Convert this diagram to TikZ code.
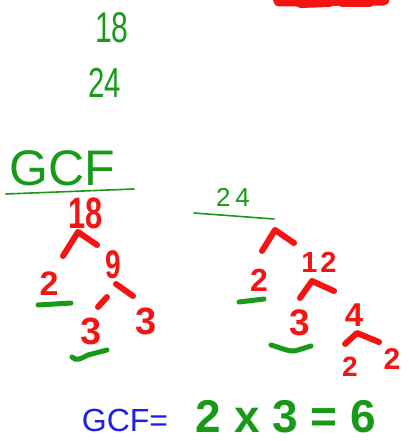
\documentclass[tikz,border=0pt]{standalone}
\usepackage{fontspec}
\setmainfont{Liberation Sans}
\newfontfamily\penfont{Liberation Sans}
\newfontfamily\pennarrow[FakeStretch=0.7]{Liberation Sans}
\usetikzlibrary{positioning}
\definecolor{penGreen}{HTML}{189A18}
\definecolor{penRed}{HTML}{F41414}
\definecolor{penBlue}{HTML}{1E1EE6}
\newcommand{\penat}[1]{\fontsize{#1}{#1}\selectfont}

\begin{document}
\begin{tikzpicture}[x=1pt,y=-1pt,
    gnum/.style={text=penGreen,inner sep=0pt},
    rnum/.style={text=penRed,inner sep=0pt},
    bnum/.style={text=penBlue,inner sep=0pt},
    rstroke/.style={draw=penRed,line width=6pt,line cap=round,line join=round},
    gline/.style={draw=penGreen,line width=1.6pt,line cap=round},
    gmark/.style={draw=penGreen,line width=5pt,line cap=round,line join=round}]

  \useasboundingbox (0,0) rectangle (408,441);

  % the two numbers
  \node[gnum,font=\pennarrow\penat{43}] (g18) at (112,28) {18};
  \node[gnum,font=\pennarrow\penat{42}] (g24) at (105,83) {24};

  % cut-off scribble, top right
  \begin{scope}
    \clip (0,0) rectangle (408,441);
    \draw[rstroke,line width=11pt] (277,-6) -- (279,1) -- (384,0);
    \draw[rstroke,line width=8pt] (296,-2) -- (300,4) -- (330,3);
    \draw[rstroke,line width=8pt] (338,-2) -- (342,3) -- (370,3);
  \end{scope}

  % heading
  \node[gnum,font=\penfont\penat{50}] (gcf) at (62,168) {GCF};
  \draw[gline] (6,194) -- (134,189);

  % tree of 18
  \node[rnum,font=\pennarrow\bfseries\penat{44}] (r18) at (86,213) {18};
  \node[rnum,font=\pennarrow\bfseries\penat{40}] (r9) at (113,265) {9};
  \node[rnum,font=\penfont\bfseries\penat{34}] (r2a) at (49,284) {2};
  \node[rnum,font=\penfont\bfseries\penat{38}] (r3a) at (91,331) {3};
  \node[rnum,font=\penfont\bfseries\penat{38}] (r3b) at (146,321) {3};
  \draw[rstroke] (63,256) -- (78,232) -- (97,245);
  \draw[rstroke] (98,307) -- (107,297);
  \draw[rstroke] (116,284) -- (133,296);
  \draw[gmark] (38,305) -- (71,303);
  \draw[gmark] (72,357) .. controls (76,362) and (82,358) .. (88,355) -- (107,350);

  % tree of 24
  \node[gnum,font=\penfont\penat{26}] (g24b) at (233,197) {2\hspace{5pt}4};
  \draw[gline] (194,213) -- (274,219);
  \node[rnum,font=\penfont\bfseries\penat{29}] (r12) at (319,262) {1\hspace{3pt}2};
  \node[rnum,font=\penfont\bfseries\penat{32}] (r2b) at (259,280) {2};
  \node[rnum,font=\penfont\bfseries\penat{37}] (r3c) at (300,323) {3};
  \node[rnum,font=\penfont\bfseries\penat{33}] (r4) at (354,315) {4};
  \node[rnum,font=\penfont\bfseries\penat{28}] (r2c) at (350,367) {2};
  \node[rnum,font=\penfont\bfseries\penat{30}] (r2d) at (392,359) {2};
  \draw[rstroke] (262,251) -- (275,230) -- (294,243);
  \draw[rstroke] (300,298) -- (312,281) -- (334,291);
  \draw[rstroke] (345,344) -- (357,333) -- (379,342);
  \draw[gmark] (239,302) -- (264,299);
  \draw[gmark] (271,345) .. controls (282,348) and (290,353) .. (298,350) -- (311,346);

  % result
  \node[bnum,font=\penfont\penat{32}] (gcfa) at (125,420) {GCF=};
  \node[gnum,font=\penfont\bfseries\penat{46}] (ans) at (286,417) {2 x 3 = 6};
\end{tikzpicture}
\end{document}
